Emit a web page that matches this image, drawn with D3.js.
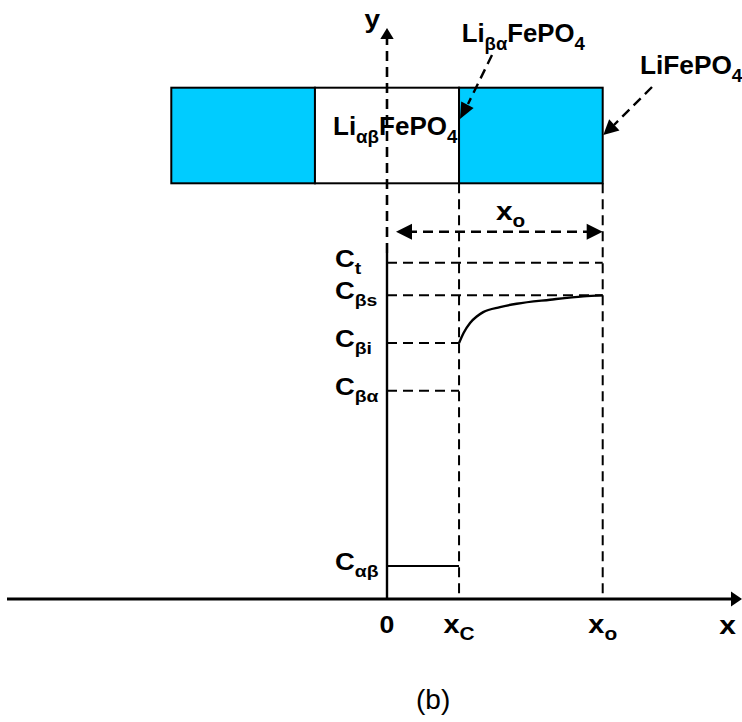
<!DOCTYPE html>
<html>
<head>
<meta charset="utf-8">
<script src="https://cdn.jsdelivr.net/npm/d3@7"></script>
<style>
  body { margin: 0; background: #fff; }
  svg { display: block; }
  text { font-family: "Liberation Sans", Arial, Helvetica, sans-serif; fill: #000; }
</style>
</head>
<body>
<script>
// Concentration levels marked along the vertical axis (label base, subscript)
const levelNames = [["C", "t"], ["C", "βs"], ["C", "βi"], ["C", "βα"], ["C", "αβ"]];
const levelValues = [1.0, 0.903, 0.761, 0.619, 0.098];

// Positions marked along the horizontal axis
const tickNames = [["0", ""], ["x", "C"], ["x", "o"]];
const tickValues = [0, 0.334, 1.0];

// Li concentration profile in the β phase, from x_C to x_o
const profileX = [0.334, 0.355, 0.385, 0.416, 0.446, 0.524, 0.601, 0.756, 0.910, 1.0];
const profileC = [0.761, 0.791, 0.821, 0.840, 0.853, 0.868, 0.878, 0.890, 0.900, 0.903];

// Constant concentration in the α phase, from 0 to x_C
const alphaX = [0, 0.334];
const alphaC = [0.098, 0.098];

// Particle cross-section: phase bands along x
const bandStart = [-1.0, -0.334, 0.334];
const bandEnd = [-0.334, 0.334, 1.0];
const bandPhase = ["beta", "alpha", "beta"];

const W = 742, H = 722;
const svg = d3.select("body").append("svg").attr("width", W).attr("height", H);

const x = d3.scaleLinear().domain([0, 1]).range([387, 602.7]);
const y = d3.scaleLinear().domain([0, 1]).range([599, 262.7]);
const phaseFill = d3.scaleOrdinal().domain(["alpha", "beta"]).range(["#ffffff", "#00ccff"]);

const boxTop = 87.7, boxBottom = 183.3;
const dash = "10,6";

// text with alternating normal / subscript runs, optionally widened horizontally
function richText(g, px, py, parts, size, subSize, shift, anchor, stretch) {
  const t = g.append("g")
    .attr("transform", `translate(${px},${py}) scale(${stretch || 1},1)`)
    .append("text").attr("x", 0).attr("y", 0)
    .attr("font-size", size).attr("font-weight", "bold")
    .attr("text-anchor", anchor || "start");
  let inSub = false;
  parts.forEach(([s, sub]) => {
    if (!s) return;
    const ts = t.append("tspan").text(s).attr("font-size", sub ? subSize : size);
    if (sub && !inSub) ts.attr("dy", shift);
    if (!sub && inSub) ts.attr("dy", -shift);
    inSub = sub;
  });
  return t;
}

// filled triangular arrow head, tip at (tx,ty), pointing along angle (radians)
function arrowHead(g, tx, ty, ang, len, hw) {
  const bx = tx - len * Math.cos(ang), by = ty - len * Math.sin(ang);
  const nx = -Math.sin(ang) * hw, ny = Math.cos(ang) * hw;
  g.append("path")
    .attr("d", `M${tx},${ty}L${bx + nx},${by + ny}L${bx - nx},${by - ny}Z`)
    .attr("fill", "#000");
}

const g = svg.append("g");

// particle bands
g.selectAll("rect.band").data(bandStart).join("rect")
  .attr("class", "band")
  .attr("x", (d) => x(d))
  .attr("width", (d, i) => x(bandEnd[i]) - x(d))
  .attr("y", boxTop).attr("height", boxBottom - boxTop)
  .attr("fill", (d, i) => phaseFill(bandPhase[i]))
  .attr("stroke", "#000").attr("stroke-width", 2);

// phase label inside the α band
richText(g, 333, 135, [["Li", 0], ["αβ", 1], ["FePO", 0], ["4", 1]], 25, 18, 8, "start", 1.04);

// vertical dashed guides at x_C and x_o
g.selectAll("line.guide").data([tickValues[1], tickValues[2]]).join("line")
  .attr("x1", (d) => x(d)).attr("x2", (d) => x(d))
  .attr("y1", boxBottom).attr("y2", y(0))
  .attr("stroke", "#000").attr("stroke-width", 2).attr("stroke-dasharray", dash);

// horizontal dashed guides for the levels
const guideEnd = [1.0, 1.0, 0.334, 0.334];
g.selectAll("line.level").data(levelValues.slice(0, 4)).join("line")
  .attr("x1", x(0)).attr("x2", (d, i) => x(guideEnd[i]))
  .attr("y1", (d) => y(d)).attr("y2", (d) => y(d))
  .attr("stroke", "#000").attr("stroke-width", 2).attr("stroke-dasharray", dash);

// y axis: dashed above C_t, solid below
const yAxisTop = 39;
g.append("line").attr("x1", x(0)).attr("x2", x(0))
  .attr("y1", 253).attr("y2", yAxisTop)
  .attr("stroke", "#000").attr("stroke-width", 2.6).attr("stroke-dasharray", dash);
g.append("line").attr("x1", x(0)).attr("x2", x(0))
  .attr("y1", 253).attr("y2", y(0))
  .attr("stroke", "#000").attr("stroke-width", 2.4);
arrowHead(g, x(0), 28, -Math.PI / 2, 11, 6.7);
richText(g, 380, 28, [["y", 0]], 25, 18, 0, "end", 1.12);

// x axis
g.append("line").attr("x1", 7).attr("x2", 733).attr("y1", y(0)).attr("y2", y(0))
  .attr("stroke", "#000").attr("stroke-width", 3);
arrowHead(g, 742, y(0), 0, 11, 7.5);
richText(g, 727.5, 634, [["x", 0]], 25, 18, 0, "middle", 1.2);

// profile curves
const line = d3.line().x((d) => x(d[0])).y((d) => y(d[1])).curve(d3.curveMonotoneX);
g.append("path").datum(alphaX.map((v, i) => [v, alphaC[i]]))
  .attr("d", line).attr("fill", "none").attr("stroke", "#000").attr("stroke-width", 2);
g.append("path").datum(profileX.map((v, i) => [v, profileC[i]]))
  .attr("d", line).attr("fill", "none").attr("stroke", "#000").attr("stroke-width", 2.4);

// level labels
levelNames.forEach((n, i) => {
  richText(g, 335, y(levelValues[i]) + 4, [[n[0], 0], [n[1], 1]], 24, 17, 7, "start", 1.14);
});

// tick labels
tickNames.forEach((n, i) => {
  richText(g, x(tickValues[i]), 633, [[n[0], 0], [n[1], 1]], n[0] === "0" ? 23 : 25, 18, 7, "middle", 1.16);
});

// x_o span arrow
const spanY = 231.7;
g.append("line").attr("x1", x(0) + 20).attr("x2", x(1) - 14)
  .attr("y1", spanY).attr("y2", spanY)
  .attr("stroke", "#000").attr("stroke-width", 2.4).attr("stroke-dasharray", dash);
arrowHead(g, x(0) + 9, spanY, Math.PI, 16, 8);
arrowHead(g, x(1), spanY, 0, 16, 8);
richText(g, 496, 220, [["x", 0], ["o", 1]], 26, 18, 7, "start", 1.15);

// pointer to the β/α interface
g.append("line").attr("x1", 492).attr("y1", 55).attr("x2", 468).attr("y2", 104)
  .attr("stroke", "#000").attr("stroke-width", 2.4).attr("stroke-dasharray", dash);
arrowHead(g, 460, 119, Math.atan2(42, -22), 16, 7);
richText(g, 461.7, 42.3, [["Li", 0], ["βα", 1], ["FePO", 0], ["4", 1]], 25, 18, 8, "start", 1.03);

// pointer to the particle surface
g.append("line").attr("x1", 652).attr("y1", 87).attr("x2", 614).attr("y2", 125)
  .attr("stroke", "#000").attr("stroke-width", 2.4).attr("stroke-dasharray", dash);
arrowHead(g, 603.3, 135, Math.atan2(10, -10.8), 15, 7.6);
richText(g, 640, 74, [["LiFePO", 0], ["4", 1]], 25, 18, 8, "start", 1.05);

// panel caption
g.append("text").attr("x", 416).attr("y", 709).attr("font-size", 28).text("(b)");
</script>
</body>
</html>
